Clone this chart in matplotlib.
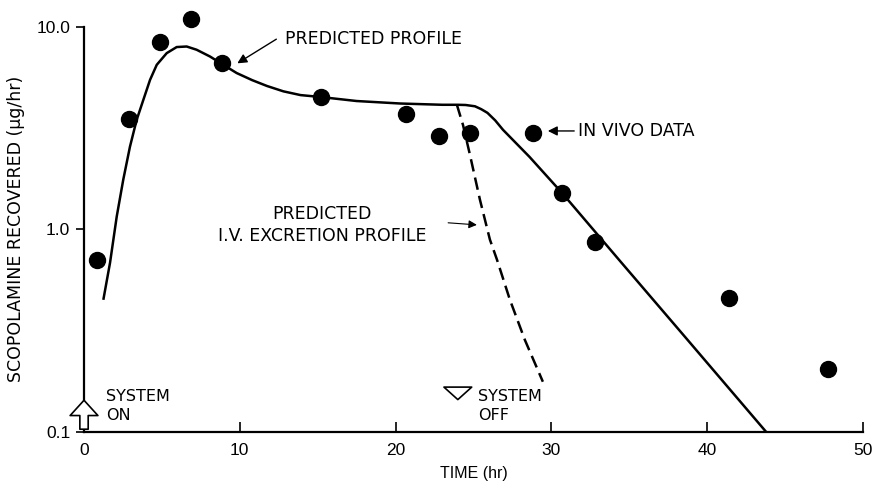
import matplotlib
matplotlib.use("Agg")
import matplotlib.pyplot as plt

plt.rcParams['font.family'] = ['Liberation Sans', 'DejaVu Sans']

# in vivo data (hr, ug/hr)
data_t = [0.83, 2.9, 4.9, 6.9, 8.86, 15.2, 20.7, 22.8, 24.8, 28.8, 30.7, 32.8, 41.4, 47.75]
data_y = [0.71, 3.5, 8.4, 10.9, 6.6, 4.5, 3.7, 2.9, 3.0, 3.0, 1.51, 0.87, 0.46, 0.205]

# predicted profile
pred_t = [1.24, 1.67, 2.10, 2.52, 2.95, 3.38, 3.81, 4.24, 4.67, 5.31, 5.95, 6.59, 7.23,
          8.09, 8.94, 9.80, 10.8, 11.75, 12.8, 13.9, 15.2, 17.5, 20.3, 23.0, 24.0,
          24.5, 25.1, 25.5, 25.9, 26.4, 26.9, 28.6, 30.7, 34.4, 38.5, 43.8]
pred_y = [0.449, 0.684, 1.157, 1.76, 2.56, 3.47, 4.36, 5.47, 6.49, 7.41, 7.94, 7.99, 7.70,
          7.13, 6.49, 5.91, 5.45, 5.1, 4.8, 4.6, 4.5, 4.3, 4.18, 4.12, 4.12,
          4.11, 4.05, 3.92, 3.76, 3.45, 3.10, 2.28, 1.51, 0.70, 0.30, 0.1]

# predicted i.v. excretion profile
iv_t = [23.94, 24.33, 24.78, 25.42, 26.06, 26.51, 27.34, 28.31, 29.46]
iv_y = [4.12, 3.28, 2.33, 1.40, 0.89, 0.71, 0.45, 0.284, 0.177]

fig = plt.figure(figsize=(8.77, 4.9), dpi=100)
ax = fig.add_axes([0.0958, 0.1184, 0.888, 0.827])

ax.plot(pred_t, pred_y, color='black', lw=1.8, solid_capstyle='butt', solid_joinstyle='round')
ax.plot(iv_t, iv_y, color='black', lw=1.8, dashes=(5, 2.5))
ax.plot(data_t, data_y, 'o', color='black', ms=11.5, clip_on=False)

ax.set_yscale('log')
ax.set_xlim(0, 50)
ax.set_ylim(0.1, 10)
ax.set_xticks([0, 10, 20, 30, 40, 50])
ax.set_yticks([0.1, 1.0, 10.0])
ax.set_yticklabels(['0.1', '1.0', '10.0'])
ax.minorticks_off()
ax.tick_params(axis='x', direction='in', length=7, width=1.2, labelsize=12.5, pad=8)
ax.tick_params(axis='y', direction='out', length=6, width=1.2, labelsize=12.5, pad=4)
for s in ['top', 'right']:
    ax.spines[s].set_visible(False)
for s in ['left', 'bottom']:
    ax.spines[s].set_linewidth(1.6)

ax.set_xlabel('TIME (hr)', fontsize=11.5, labelpad=6)
ax.set_ylabel('SCOPOLAMINE RECOVERED (μg/hr)', fontsize=12.5, labelpad=8,
              family=['DejaVu Sans'])

fs = 12.5
ann_font = ['DejaVu Sans']
ax.text(12.9, 8.73, 'PREDICTED PROFILE', fontsize=fs, va='center', ha='left', family=ann_font)
ax.annotate('', xy=(9.69, 6.49), xytext=(12.5, 8.83),
            arrowprops=dict(arrowstyle='-|>', color='black', lw=1.0, mutation_scale=14))

ax.text(31.7, 3.06, 'IN VIVO DATA', fontsize=fs, va='center', ha='left', family=ann_font)
ax.annotate('', xy=(29.6, 3.06), xytext=(31.65, 3.06),
            arrowprops=dict(arrowstyle='-|>', color='black', lw=1.0, mutation_scale=14))

ax.text(15.3, 1.05, 'PREDICTED\nI.V. EXCRETION PROFILE', fontsize=fs, va='center',
        ha='center', multialignment='center', linespacing=1.3, family=ann_font)
ax.annotate('', xy=(25.4, 1.05), xytext=(23.2, 1.08),
            arrowprops=dict(arrowstyle='-|>', color='black', lw=0.8, mutation_scale=12))

ax.text(1.41, 0.134, 'SYSTEM\nON', fontsize=11.5, va='center', ha='left', linespacing=1.3,
        family=ann_font)
ax.text(25.3, 0.134, 'SYSTEM\nOFF', fontsize=11.5, va='center', ha='left', linespacing=1.3,
        family=ann_font)

# hollow arrows marking system on / off
ax.annotate('', xy=(0, 0.148), xytext=(0, 0.1),
            arrowprops=dict(arrowstyle='simple,head_width=1.0,head_length=0.55,tail_width=0.3',
                            fc='white', ec='black', lw=1.2, mutation_scale=20),
            annotation_clip=False)
ax.annotate('', xy=(24.0, 0.140), xytext=(24.0, 0.166),
            arrowprops=dict(arrowstyle='simple,head_width=1.0,head_length=0.45,tail_width=0.45',
                            fc='white', ec='black', lw=1.2, mutation_scale=20),
            annotation_clip=False)

fig.savefig('out.png', dpi=100)
